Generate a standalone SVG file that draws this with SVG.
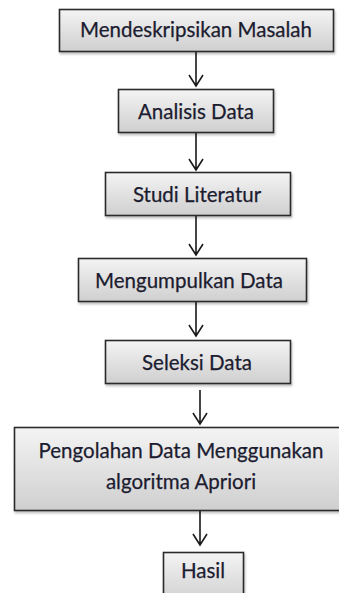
<svg xmlns="http://www.w3.org/2000/svg" width="339" height="593" viewBox="0 0 339 593">
<defs>
<linearGradient id="g" x1="0" y1="0" x2="0" y2="1">
<stop offset="0" stop-color="#f4f4f4"/>
<stop offset="1" stop-color="#cfcfcf"/>
</linearGradient>
<filter id="sh" x="-10%" y="-10%" width="120%" height="130%">
<feDropShadow dx="1" dy="2" stdDeviation="1" flood-color="#000" flood-opacity="0.25"/>
</filter>
</defs>
<style>
.box{fill:url(#g);stroke:#2b2b2b;stroke-width:1.6;filter:url(#sh)}
.t{font-family:Lato,"Open Sans",sans-serif;font-size:20.5px;fill:#1c1c30;stroke:#1c1c30;stroke-width:0.25;text-anchor:middle}
.c{fill:none;stroke:#1a1a1a;stroke-width:1.6}
</style>
<rect width="339" height="593" fill="#fff"/>
<g id="connectors">
<path class="c" d="M196 52V86M189 75L196 86L203 75"/>
<path class="c" d="M196 133V170M189 159L196 170L203 159"/>
<path class="c" d="M196 216V255M189 244L196 255L203 244"/>
<path class="c" d="M196 302V336M189 325L196 336L203 325"/>
<path class="c" d="M200 390V424M193 413L200 424L207 413"/>
<path class="c" d="M200 511V545M193 534L200 545L207 534"/>
</g>
<g id="n1"><rect class="box" x="59.5" y="9.5" width="274" height="42"/><text class="t" x="196" y="37">Mendeskripsikan Masalah</text></g>
<g id="n2"><rect class="box" x="118.5" y="89.5" width="155" height="43"/><text class="t" x="196" y="119">Analisis Data</text></g>
<g id="n3"><rect class="box" x="105.5" y="172.5" width="185" height="43"/><text class="t" x="197" y="202">Studi Literatur</text></g>
<g id="n4"><rect class="box" x="78.5" y="258.5" width="228" height="43"/><text class="t" x="189" y="288">Mengumpulkan Data</text></g>
<g id="n5"><rect class="box" x="105.5" y="340.5" width="185" height="43"/><text class="t" x="197" y="370">Seleksi Data</text></g>
<g id="n6"><rect class="box" x="14.5" y="427.5" width="330" height="83"/><text class="t" x="181" y="458">Pengolahan Data Menggunakan</text><text class="t" x="181" y="489">algoritma Apriori</text></g>
<g id="n7"><rect class="box" x="163.5" y="552.5" width="80" height="50"/><text class="t" x="203" y="578">Hasil</text></g>
</svg>
